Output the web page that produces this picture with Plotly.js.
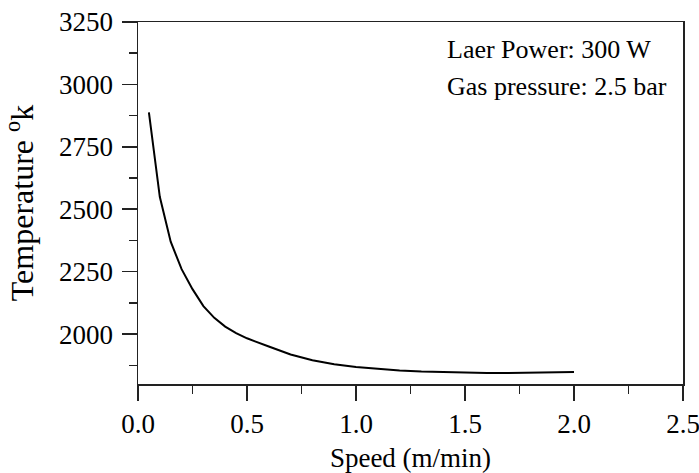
<!DOCTYPE html>
<html>
<head>
<meta charset="utf-8">
<script src="https://cdn.plot.ly/plotly-3.0.1.min.js"></script>
<style>html,body{margin:0;padding:0;background:#fff;}#chart{width:699px;height:473px;}</style>
</head>
<body>
<div id="chart"></div>
<script>
const speed = [0.05,0.1,0.15,0.2,0.25,0.3,0.35,0.4,0.45,0.5,0.6,0.7,0.8,0.9,1.0,1.1,1.2,1.3,1.4,1.5,1.6,1.7,1.8,1.9,2.0];
const temperature = [2888,2550,2370,2260,2180,2112,2065,2030,2004,1983,1950,1918,1895,1879,1868,1860,1854,1850,1847,1845,1844,1844,1845,1846,1848];
const xTitle = "Speed (m/min)";
const yTitle = "Temperature <sup>o</sup>k";
const notes = ["Laer Power: 300 W", "Gas pressure: 2.5 bar"];

const font = "Liberation Serif";
const axisCommon = {
  showline: true, linecolor: "#222", linewidth: 1.5, mirror: true,
  ticks: "outside", ticklen: 15, tickwidth: 1.5, tickcolor: "#222",
  showgrid: false, zeroline: false,
  ticklabeloverflow: "allow",
  tickfont: {family: font, size: 27, color: "#000"}
};
const layout = {
  width: 699, height: 473,
  margin: {l: 138, r: 16, t: 22, b: 89},
  paper_bgcolor: "#fff", plot_bgcolor: "#fff",
  showlegend: false,
  font: {family: font, color: "#000"},
  xaxis: Object.assign({}, axisCommon, {
    range: [0, 2.5], dtick: 0.5, tick0: 0, tickformat: ".1f",
    minor: {dtick: 0.25, ticks: "outside", ticklen: 8, tickwidth: 1.5, tickcolor: "#222"},
    title: {text: xTitle, font: {family: font, size: 27, color: "#000"}, standoff: 10}
  }),
  yaxis: Object.assign({}, axisCommon, {
    range: [1800, 3250], dtick: 250, tick0: 2000,
    ticklabelstandoff: 3,
    minor: {dtick: 125, ticks: "outside", ticklen: 8, tickwidth: 1.5, tickcolor: "#222"},
    title: {text: yTitle, font: {family: font, size: 32, color: "#000"}, standoff: 16}
  }),
  annotations: [
    {xref: "paper", yref: "paper", x: 0.563, y: 0.925, xanchor: "left", yanchor: "middle", showarrow: false, text: notes[0], font: {family: font, size: 26, color: "#000"}},
    {xref: "paper", yref: "paper", x: 0.563, y: 0.822, xanchor: "left", yanchor: "middle", showarrow: false, text: notes[1], font: {family: font, size: 26, color: "#000"}}
  ]
};
Plotly.newPlot("chart", [{
  x: speed, y: temperature, type: "scatter", mode: "lines",
  line: {color: "#000", width: 2}
}], layout, {staticPlot: true, displayModeBar: false});
</script>
</body>
</html>
